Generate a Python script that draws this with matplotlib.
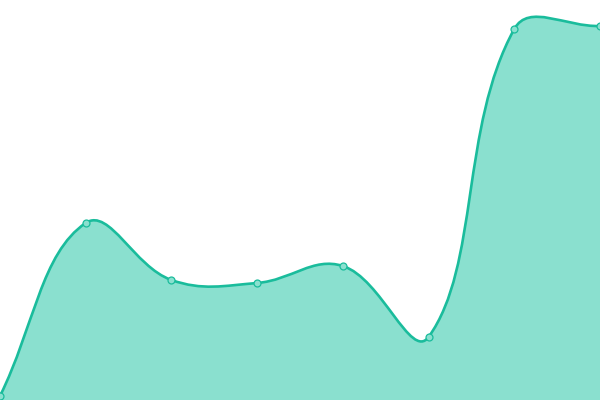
import matplotlib
matplotlib.use("Agg")
import matplotlib.pyplot as plt
import numpy as np
from matplotlib.path import Path
from matplotlib.patches import PathPatch

# data (y axis 0..400)
labels = ["1", "2", "3", "4", "5", "6", "7", "8"]
values = [4, 177, 120, 117, 134, 63, 371, 374]

line_color = "#1abc9c"
fill_color = "#8ae0cf"
tension = 0.4

W, H = 600, 400
x_max = len(values) - 1
y_max = 400


def to_px(i, v):
    return np.array([i / x_max * W, v / y_max * H])


def spline_controls(pts, t):
    # chart.js style bezier control points
    ctrl = []
    n = len(pts)
    for i in range(n):
        cur = pts[i]
        prev = pts[i - 1] if i > 0 else cur
        nxt = pts[i + 1] if i < n - 1 else cur
        d01 = np.hypot(*(cur - prev))
        d12 = np.hypot(*(nxt - cur))
        tot = d01 + d12
        s01 = d01 / tot if tot else 0
        s12 = d12 / tot if tot else 0
        fa = t * s01
        fb = t * s12
        cp_prev = cur - fa * (nxt - prev)
        cp_next = cur + fb * (nxt - prev)
        cp_prev[1] = np.clip(cp_prev[1], 0, H)
        cp_next[1] = np.clip(cp_next[1], 0, H)
        ctrl.append((cp_prev, cp_next))
    return ctrl


pts = [to_px(i, v) for i, v in enumerate(values)]
ctrl = spline_controls(pts, tension)

verts = [pts[0]]
codes = [Path.MOVETO]
for i in range(1, len(pts)):
    verts += [ctrl[i - 1][1], ctrl[i][0], pts[i]]
    codes += [Path.CURVE4] * 3

fig = plt.figure(figsize=(6, 4), dpi=100)
ax = fig.add_axes([0, 0, 1, 1])
ax.set_xlim(0, W)
ax.set_ylim(0, H)
ax.axis("off")

fill_verts = verts + [np.array([W, 0]), np.array([0, 0]), pts[0]]
fill_codes = codes + [Path.LINETO, Path.LINETO, Path.CLOSEPOLY]
ax.add_patch(PathPatch(Path(fill_verts, fill_codes), facecolor=fill_color,
                       edgecolor="none"))
ax.add_patch(PathPatch(Path(verts, codes), facecolor="none",
                       edgecolor=line_color, linewidth=1.9))

px = [p[0] for p in pts]
py = [p[1] for p in pts]
ax.plot(px, py, "o", markersize=5, markerfacecolor=fill_color,
        markeredgecolor=line_color, markeredgewidth=0.9, clip_on=False)

fig.savefig("out.png", dpi=100)
